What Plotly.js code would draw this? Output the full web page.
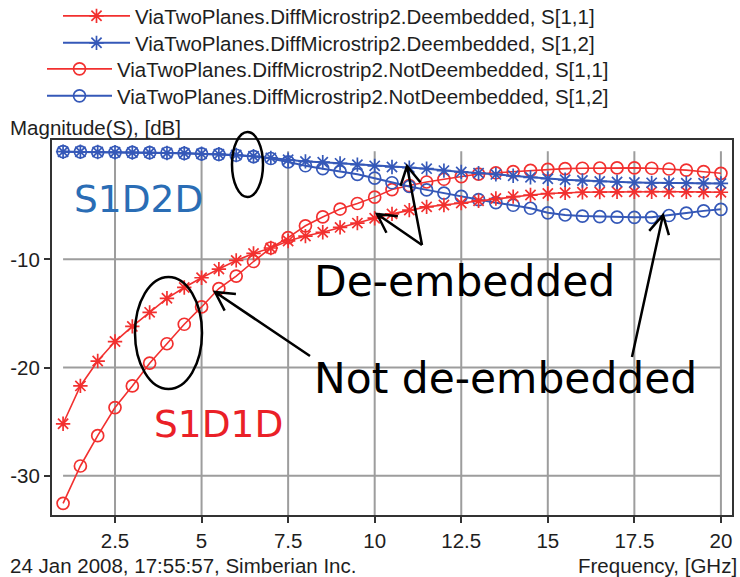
<!DOCTYPE html>
<html><head><meta charset="utf-8">
<script src="https://cdn.plot.ly/plotly-3.0.1.min.js"></script>
<style>html,body{margin:0;padding:0;background:#fff}#chart{width:740px;height:577px}</style>
</head><body><div id="chart"></div>
<script>
// ---------------- data ----------------
const freq = [1,1.5,2,2.5,3,3.5,4,4.5,5,5.5,6,6.5,7,7.5,8,8.5,9,9.5,10,10.5,11,11.5,12,12.5,13,13.5,14,14.5,15,15.5,16,16.5,17,17.5,18,18.5,19,19.5,20];

const s11Deembedded = [-25.2,-21.7,-19.4,-17.6,-16.2,-14.9,-13.6,-12.6,-11.7,-10.9,-10.1,-9.45,-8.95,-8.3,-7.85,-7.5,-7.05,-6.65,-6.2,-5.8,-5.45,-5.15,-4.98,-4.8,-4.58,-4.38,-4.2,-4.06,-3.92,-3.85,-3.8,-3.78,-3.76,-3.75,-3.75,-3.75,-3.76,-3.78,-3.8];

const s12Deembedded = [-0.05,-0.06,-0.08,-0.1,-0.12,-0.14,-0.17,-0.2,-0.24,-0.28,-0.36,-0.47,-0.62,-0.8,-0.95,-1.02,-1.13,-1.25,-1.36,-1.46,-1.52,-1.62,-1.8,-1.92,-2.03,-2.15,-2.28,-2.42,-2.55,-2.65,-2.72,-2.8,-2.85,-2.9,-2.93,-2.95,-2.96,-2.97,-2.98];

const s11NotDeembedded = [-32.55,-29.1,-26.3,-23.7,-21.7,-19.6,-17.8,-16.0,-14.4,-12.7,-11.55,-10.2,-8.95,-8.0,-6.9,-6.08,-5.35,-4.84,-4.25,-3.55,-3.18,-2.85,-2.6,-2.36,-2.12,-2.0,-1.9,-1.78,-1.68,-1.62,-1.58,-1.56,-1.55,-1.55,-1.58,-1.65,-1.75,-1.9,-2.05];

const s12NotDeembedded = [-0.05,-0.06,-0.08,-0.1,-0.12,-0.14,-0.17,-0.2,-0.25,-0.3,-0.38,-0.5,-0.68,-1.0,-1.35,-1.62,-1.9,-2.14,-2.5,-2.92,-3.27,-3.58,-3.88,-4.18,-4.48,-4.76,-5.0,-5.28,-5.7,-5.9,-6.0,-6.06,-6.1,-6.12,-6.12,-5.95,-5.72,-5.52,-5.38];

const seriesNames = [
  'ViaTwoPlanes.DiffMicrostrip2.Deembedded, S[1,1]',
  'ViaTwoPlanes.DiffMicrostrip2.Deembedded, S[1,2]',
  'ViaTwoPlanes.DiffMicrostrip2.NotDeembedded, S[1,1]',
  'ViaTwoPlanes.DiffMicrostrip2.NotDeembedded, S[1,2]'
];

const xTickVals = [2.5,5,7.5,10,12.5,15,17.5,20];
const xTickText = ['2.5','5','7.5','10','12.5','15','17.5','20'];
const yTickVals = [-10,-20,-30];
const yTickText = ['-10','-20','-30'];

const yAxisLabel = 'Magnitude(S), [dB]';
const xAxisLabel = 'Frequency, [GHz]';
const footerText = '24 Jan 2008, 17:55:57, Simberian Inc.';

// ---------------- styling / layout ----------------
const W = 740, H = 577;
const PL = 52, PR = 732, PT = 140, PB = 515;
const xRange = [0.68, 20.32];
const yRange = [-33.63, 1.03];
const gridTop = 0;                 // grid lines stop at 0 dB
const gridX = [freq[0], freq[freq.length-1]];

const RED = '#f2302f', BLUE = '#3558b8';
const TXT = '#1e1e1e';
const SMALL = {family: 'Liberation Sans, Arial, sans-serif', size: 20.5, color: TXT};
const BIG = 'DejaVu Sans, Verdana, sans-serif';

const px2x = p => (p - PL) / (PR - PL);
const px2y = p => (PB - p) / (PB - PT);

const seriesData = [s11Deembedded, s12Deembedded, s11NotDeembedded, s12NotDeembedded];
const seriesColor = [RED, BLUE, RED, BLUE];
const seriesSymbol = ['asterisk-open','asterisk-open','circle-open','circle-open'];
const seriesWidth = [1.6, 2, 1.6, 2];
const legendNames = ['legend','legend2','legend3','legend4'];

const traces = seriesData.map((ys, i) => ({
  type: 'scatter', mode: 'lines+markers',
  x: freq, y: ys, name: seriesNames[i],
  legend: legendNames[i],
  line: {color: seriesColor[i], width: seriesWidth[i]},
  marker: {symbol: seriesSymbol[i], size: 12, color: seriesColor[i], line: {color: seriesColor[i], width: 1.7}},
  cliponaxis: false
}));
// draw order: not-deembedded first, de-embedded on top
const drawOrder = [2, 3, 0, 1];
const data = drawOrder.map(i => traces[i]);

// legends: [left px of item, row centre px, itemwidth]
const legendPos = [[58, 16, 67], [58, 43, 67], [42, 69, 65], [42, 96, 65]];
const legends = {};
legendPos.forEach((p, i) => {
  legends[legendNames[i]] = {
    xref: 'container', yref: 'container',
    x: p[0] / W, y: 1 - p[1] / H, xanchor: 'left', yanchor: 'middle',
    bgcolor: 'rgba(0,0,0,0)', borderwidth: 0, itemwidth: p[2],
    font: SMALL, itemclick: false, itemdoubleclick: false
  };
});

// grid as shapes so it spans only the data extent (like the original)
const shapes = [];
xTickVals.forEach(v => shapes.push({type:'line', layer:'below', xref:'x', yref:'y',
  x0: v, x1: v, y0: yRange[0], y1: gridTop, line:{color:'#9d9d9d', width:2}}));
yTickVals.forEach(v => shapes.push({type:'line', layer:'below', xref:'x', yref:'y',
  x0: gridX[0], x1: gridX[1], y0: v, y1: v, line:{color:'#9d9d9d', width:2}}));

// ellipses
[[232,132,263,197],[135,277,202,389]].forEach(e => shapes.push({type:'circle', xref:'paper', yref:'paper',
  x0: px2x(e[0]), x1: px2x(e[2]), y0: px2y(e[3]), y1: px2y(e[1]), line:{color:'#000', width:2.5}}));

// arrows with open heads
function arrowPath(tail, tip) {
  const a = Math.atan2(tip[1]-tail[1], tip[0]-tail[0]);
  const L = 21, th = 0.5;
  const w1 = [tip[0]-L*Math.cos(a-th), tip[1]-L*Math.sin(a-th)];
  const w2 = [tip[0]-L*Math.cos(a+th), tip[1]-L*Math.sin(a+th)];
  const P = p => px2x(p[0]).toFixed(5) + ',' + px2y(p[1]).toFixed(5);
  return 'M' + P(tail) + 'L' + P(tip) + 'M' + P(w1) + 'L' + P(tip) + 'L' + P(w2);
}
[[[422,245],[407,166]], [[422,245],[377,214]], [[310,356],[215,292]], [[632,357],[663,215]]]
  .forEach(ar => shapes.push({type:'path', xref:'paper', yref:'paper', path: arrowPath(ar[0], ar[1]),
    line:{color:'#000', width:2.5}}));

const ann = (text, xpx, ypx, xanchor, font) => ({text, xref:'paper', yref:'paper', x: px2x(xpx), y: px2y(ypx),
  xanchor, yanchor:'middle', showarrow:false, font});

const annotations = [
  ann(yAxisLabel, 8, 127, 'left', SMALL),
  ann(footerText, 8, 565, 'left', SMALL),
  ann(xAxisLabel, 739, 565, 'right', SMALL),
  ann('S1D2D', 72, 199, 'left', {family: BIG, size: 37.5, color: '#2a6db5'}),
  ann('S1D1D', 152, 424, 'left', {family: BIG, size: 37.5, color: '#ea2027'}),
  ann('De-embedded', 312, 281, 'left', {family: BIG, size: 42.4, color: '#000'}),
  ann('Not de-embedded', 312, 378, 'left', {family: BIG, size: 42.4, color: '#000'})
];

const axisCommon = {
  showgrid: false, zeroline: false, showline: true, mirror: true,
  linecolor: '#333', linewidth: 2, ticks: 'outside', ticklen: 6, tickwidth: 2, tickcolor: '#333',
  tickfont: SMALL, fixedrange: true
};

const layout = Object.assign({
  width: W, height: H,
  margin: {l: PL, r: W - PR, t: PT, b: H - PB, autoexpand: false},
  paper_bgcolor: '#fff', plot_bgcolor: '#fff',
  showlegend: true,
  xaxis: Object.assign({}, axisCommon, {range: xRange, tickmode: 'array', tickvals: xTickVals, ticktext: xTickText}),
  yaxis: Object.assign({}, axisCommon, {range: yRange, tickmode: 'array', tickvals: yTickVals, ticktext: yTickText}),
  shapes, annotations
}, legends);

Plotly.newPlot('chart', data, layout, {displayModeBar: false, staticPlot: true});
</script></body></html>
